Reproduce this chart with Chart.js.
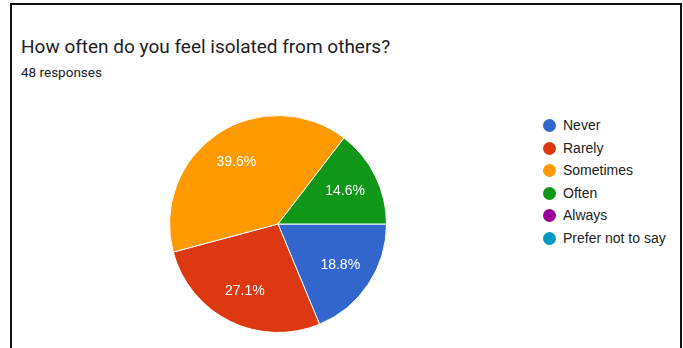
<!DOCTYPE html>
<html lang="en">
<head>
  <meta charset="UTF-8">
  <title>How often do you feel isolated from others?</title>
  <script src="https://cdn.jsdelivr.net/npm/chart.js@4.4.0/dist/chart.umd.min.js"></script>
  <style>
    body { margin: 0; background: #fff; width: 683px; height: 348px; overflow: hidden; position: relative; }
    #frame { position: absolute; left: 10px; top: 3px; width: 668px; height: 400px; border: 2px solid #111; }
    #title { position: absolute; left: 21px; top: 35px; font: 19px Roboto, Arial, sans-serif; color: #202124; white-space: nowrap; }
    #sub { position: absolute; left: 21px; top: 64px; font: 13.5px Roboto, Arial, sans-serif; color: #202124; }
    #chart { position: absolute; left: 169px; top: 115px; }
    #legend { position: absolute; left: 543px; top: 115px; font: 14px Arial, "Liberation Sans", sans-serif; color: #222; }
    #legend div { height: 22.6px; line-height: 20px; white-space: nowrap; }
    #legend span { display: inline-block; width: 13px; height: 13px; border-radius: 50%; vertical-align: -2px; margin-right: 7px; }
  </style>
</head>
<body>
<div id="frame"></div>
<div id="title">How often do you feel isolated from others?</div>
<div id="sub">48 responses</div>
<canvas id="chart" width="218" height="218"></canvas>
<div id="legend"></div>

<script>
const labels = ['Never', 'Rarely', 'Sometimes', 'Often', 'Always', 'Prefer not to say'];
const counts = [9, 13, 19, 7, 0, 0];
const colors = ['#3366cc', '#dc3912', '#ff9900', '#109618', '#990099', '#0099c6'];

const total = counts.reduce((a, b) => a + b, 0);

// legend on the right
const legend = document.getElementById('legend');
labels.forEach((name, i) => {
  const row = document.createElement('div');
  row.innerHTML = '<span style="background:' + colors[i] + '"></span>' + name;
  legend.appendChild(row);
});

// percentage text inside each slice
const sliceLabels = {
  id: 'sliceLabels',
  afterDatasetsDraw(chart) {
    const ctx = chart.ctx;
    const meta = chart.getDatasetMeta(0);
    ctx.save();
    ctx.fillStyle = '#fff';
    ctx.font = '14px Arial, "Liberation Sans", sans-serif';
    ctx.textAlign = 'center';
    ctx.textBaseline = 'middle';
    meta.data.forEach((arc, i) => {
      if (!counts[i]) return;
      const mid = (arc.startAngle + arc.endAngle) / 2;
      const r = arc.outerRadius * 0.69;
      const pct = (counts[i] / total * 100).toFixed(1) + '%';
      ctx.fillText(pct, arc.x + Math.cos(mid) * r, arc.y + Math.sin(mid) * r);
    });
    ctx.restore();
  }
};

new Chart(document.getElementById('chart'), {
  type: 'pie',
  data: {
    labels: labels,
    datasets: [{
      data: counts,
      backgroundColor: colors,
      borderColor: '#fff',
      borderWidth: 1
    }]
  },
  options: {
    responsive: false,
    animation: false,
    rotation: 90,
    layout: { padding: 0 },
    plugins: {
      legend: { display: false },
      tooltip: { enabled: false }
    }
  },
  plugins: [sliceLabels]
});
</script>
</body>
</html>
